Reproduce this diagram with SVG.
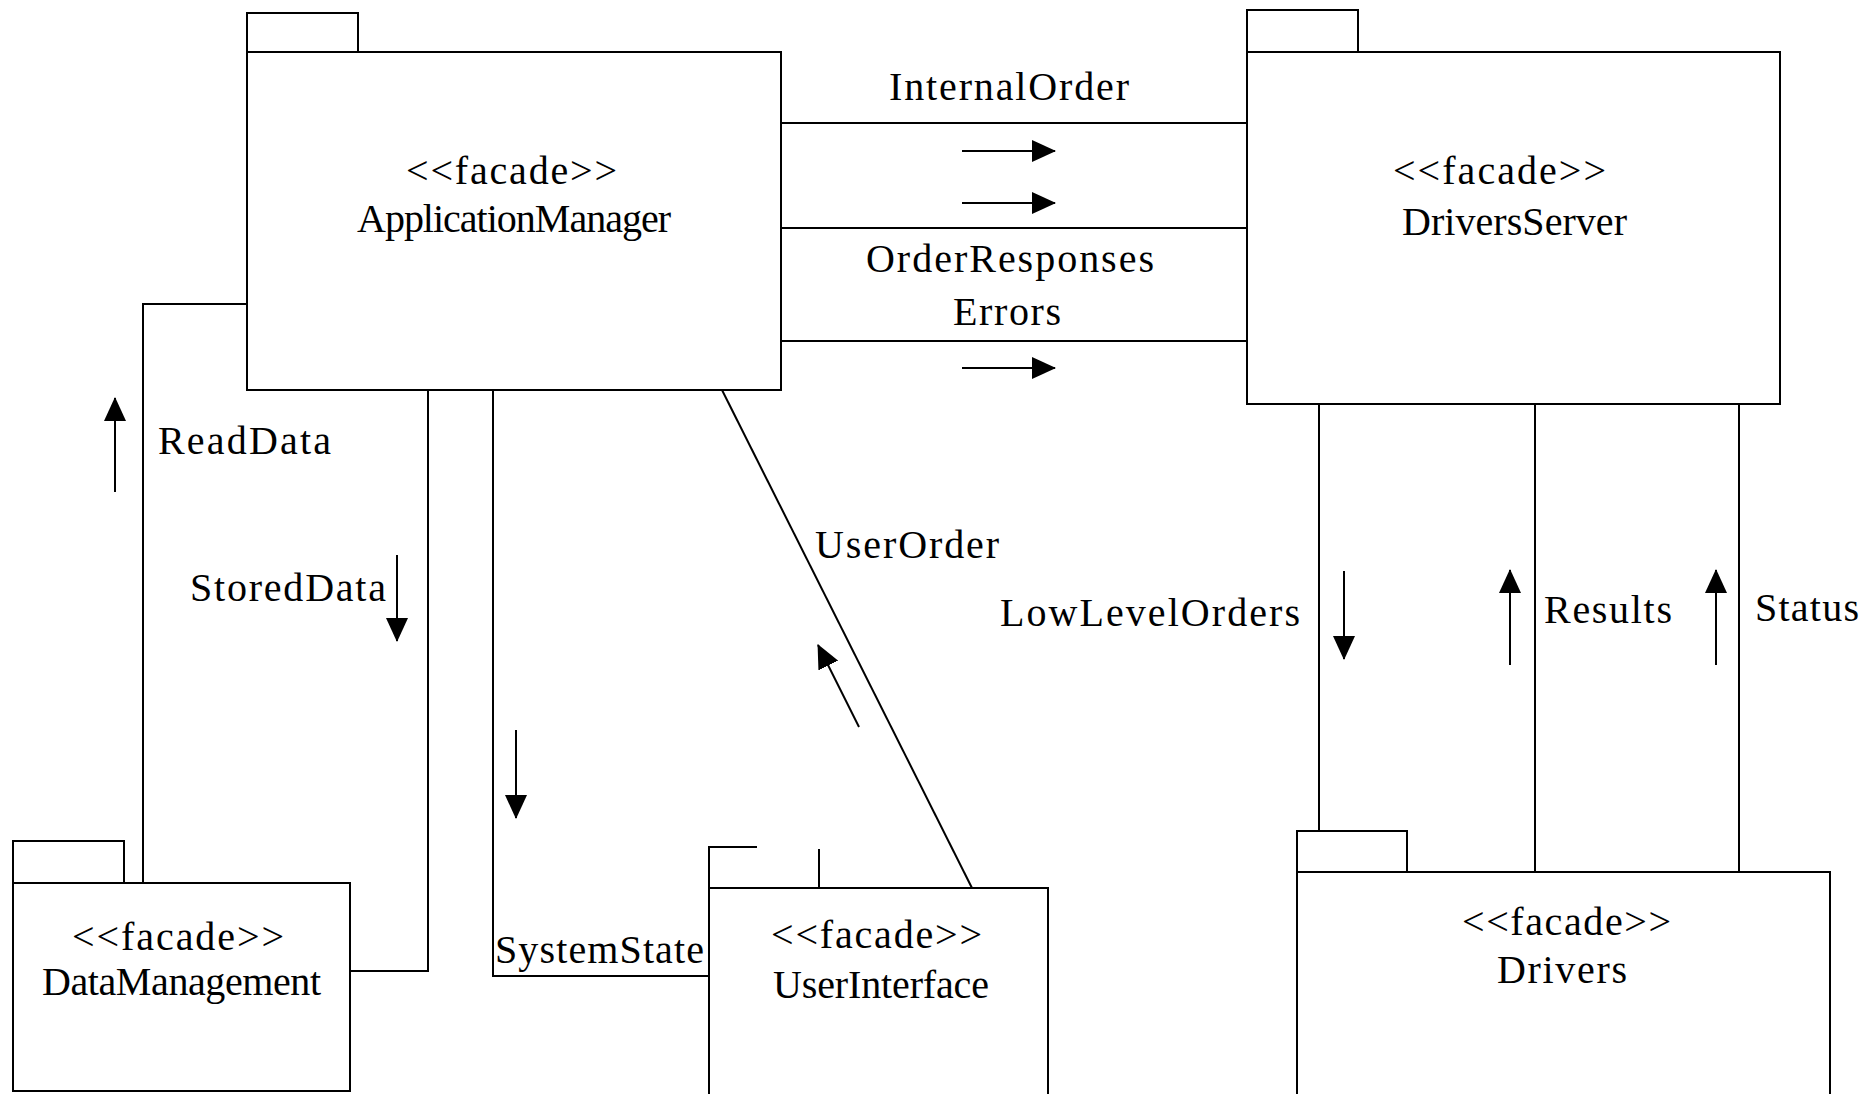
<svg xmlns="http://www.w3.org/2000/svg" width="1872" height="1094" viewBox="0 0 1872 1094">
  <style>
    .shape { fill: #ffffff; stroke: #000000; stroke-width: 2; }
    .line { fill: none; stroke: #000000; stroke-width: 2; }
    .flow { fill: none; stroke: #000000; stroke-width: 2; marker-end: url(#head); }
    .t { font-family: "Liberation Serif", "Times New Roman", serif; font-size: 40px; fill: #000000; }
  </style>
  <defs>
    <marker id="head" viewBox="0 0 24 22" refX="23" refY="11" markerWidth="24" markerHeight="22" markerUnits="userSpaceOnUse" orient="auto">
      <path d="M0,0 L24,11 L0,22 Z" fill="#000000"/>
    </marker>
  </defs>
  <rect width="1872" height="1094" fill="#ffffff"/>

  <!-- connectors -->
  <g id="connectors">
    <!-- ApplicationManager to DriversServer -->
    <line class="line" x1="781" y1="123" x2="1247" y2="123"/>
    <line class="line" x1="781" y1="228" x2="1247" y2="228"/>
    <line class="line" x1="781" y1="341" x2="1247" y2="341"/>
    <line class="flow" x1="962" y1="151" x2="1055" y2="151"/>
    <line class="flow" x1="962" y1="203" x2="1055" y2="203"/>
    <line class="flow" x1="962" y1="368" x2="1055" y2="368"/>
    <text class="t" x="889" y="100" textLength="240">InternalOrder</text>
    <text class="t" x="866" y="272" textLength="288">OrderResponses</text>
    <text class="t" x="953" y="325" textLength="108">Errors</text>

    <!-- ReadData -->
    <polyline class="line" points="143,883 143,304 247,304"/>
    <line class="flow" x1="115" y1="492" x2="115" y2="398"/>
    <text class="t" x="158" y="454" textLength="173">ReadData</text>

    <!-- StoredData -->
    <polyline class="line" points="428,390 428,971 350,971"/>
    <line class="flow" x1="397" y1="555" x2="397" y2="641"/>
    <text class="t" x="190" y="601" textLength="196">StoredData</text>

    <!-- SystemState -->
    <polyline class="line" points="493,390 493,976 709,976"/>
    <line class="flow" x1="516" y1="730" x2="516" y2="818"/>
    <text class="t" x="495" y="963" textLength="209">SystemState</text>

    <!-- UserOrder -->
    <line class="line" x1="722" y1="390" x2="972" y2="888"/>
    <line class="flow" x1="859" y1="727" x2="818" y2="645"/>
    <text class="t" x="815" y="558" textLength="184">UserOrder</text>

    <!-- DriversServer to Drivers -->
    <line class="line" x1="1319" y1="404" x2="1319" y2="831"/>
    <line class="line" x1="1535" y1="404" x2="1535" y2="872"/>
    <line class="line" x1="1739" y1="404" x2="1739" y2="872"/>
    <line class="flow" x1="1344" y1="571" x2="1344" y2="659"/>
    <line class="flow" x1="1510" y1="665" x2="1510" y2="570"/>
    <line class="flow" x1="1716" y1="665" x2="1716" y2="570"/>
    <text class="t" x="1000" y="626" textLength="300">LowLevelOrders</text>
    <text class="t" x="1544" y="623" textLength="128">Results</text>
    <text class="t" x="1755" y="621" textLength="104">Status</text>
  </g>

  <!-- packages -->
  <g id="ApplicationManager">
    <rect class="shape" x="247" y="13" width="111" height="39"/>
    <rect class="shape" x="247" y="52" width="534" height="338"/>
    <text class="t" x="406" y="184" textLength="211">&lt;&lt;facade&gt;&gt;</text>
    <text class="t" x="357" y="232" textLength="314">ApplicationManager</text>
  </g>

  <g id="DriversServer">
    <rect class="shape" x="1247" y="10" width="111" height="42"/>
    <rect class="shape" x="1247" y="52" width="533" height="352"/>
    <text class="t" x="1393" y="184" textLength="213">&lt;&lt;facade&gt;&gt;</text>
    <text class="t" x="1402" y="235" textLength="225">DriversServer</text>
  </g>

  <g id="DataManagement">
    <rect class="shape" x="13" y="841" width="111" height="42"/>
    <rect class="shape" x="13" y="883" width="337" height="208"/>
    <text class="t" x="72" y="950" textLength="212">&lt;&lt;facade&gt;&gt;</text>
    <text class="t" x="42" y="995" textLength="279">DataManagement</text>
  </g>

  <g id="UserInterface">
    <path class="line" d="M709,888 V847 H757 M819,849 V888"/>
    <rect class="shape" x="709" y="888" width="339" height="220"/>
    <text class="t" x="771" y="948" textLength="211">&lt;&lt;facade&gt;&gt;</text>
    <text class="t" x="773" y="998" textLength="216">UserInterface</text>
  </g>

  <g id="Drivers">
    <rect class="shape" x="1297" y="831" width="110" height="41"/>
    <rect class="shape" x="1297" y="872" width="533" height="236"/>
    <text class="t" x="1462" y="935" textLength="209">&lt;&lt;facade&gt;&gt;</text>
    <text class="t" x="1497" y="983" textLength="130">Drivers</text>
  </g>
</svg>
